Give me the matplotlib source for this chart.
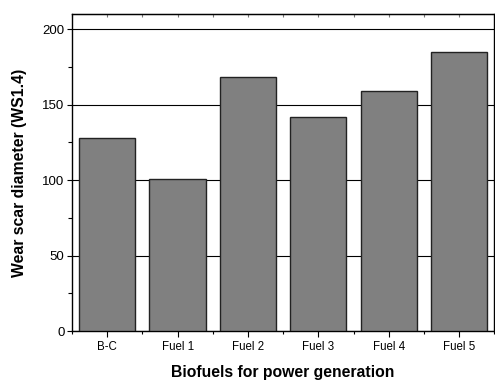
import matplotlib
matplotlib.use("Agg")
import matplotlib.pyplot as plt
from matplotlib.ticker import MultipleLocator, FixedLocator

categories = ["B-C", "Fuel 1", "Fuel 2", "Fuel 3", "Fuel 4", "Fuel 5"]
values = [128, 101, 168, 142, 159, 185]

plt.rcParams['font.family'] = ['Liberation Sans', 'DejaVu Sans']

fig = plt.figure(figsize=(4.95, 3.81), dpi=100)
ax = fig.add_axes([0.1455, 0.1312, 0.853, 0.8321])

x = list(range(len(categories)))
ax.bar(x, values, width=0.8, color='#808080', edgecolor='#222222', linewidth=1.0, zorder=3)

ax.set_xlim(-0.5, 5.5)
ax.set_ylim(0, 210)
ax.yaxis.set_major_locator(MultipleLocator(50))
ax.yaxis.set_minor_locator(MultipleLocator(25))
ax.set_xticks(x)
ax.set_xticklabels(categories, fontsize=8.3)
minor_x = [i + 0.5 for i in range(-1, 6)]
ax.xaxis.set_minor_locator(FixedLocator(minor_x))
ax.tick_params(axis='y', labelsize=9.5, direction='out', length=3.5, width=0.8, pad=2)
ax.tick_params(axis='y', which='minor', direction='out', length=3, width=0.8)
ax.tick_params(axis='x', which='major', direction='out', length=4, width=0.8)
ax.tick_params(axis='x', which='minor', direction='out', length=2.5, width=0.8)

top = ax.secondary_xaxis('top')
top.set_xticks(x + minor_x)
top.set_xticklabels([])
top.tick_params(direction='in', length=2, width=0.8, color='#777777')

ax.yaxis.grid(True, which='major', color='black', linewidth=0.8, zorder=0)
ax.set_axisbelow(True)
for s in ax.spines.values():
    s.set_linewidth(1.0)

ax.set_xlabel("Biofuels for power generation", fontsize=11.3, fontweight='bold', labelpad=8)
ax.set_ylabel("Wear scar diameter (WS1.4)", fontsize=11.3, fontweight='bold', labelpad=11)

fig.savefig("out.png", dpi=100)
